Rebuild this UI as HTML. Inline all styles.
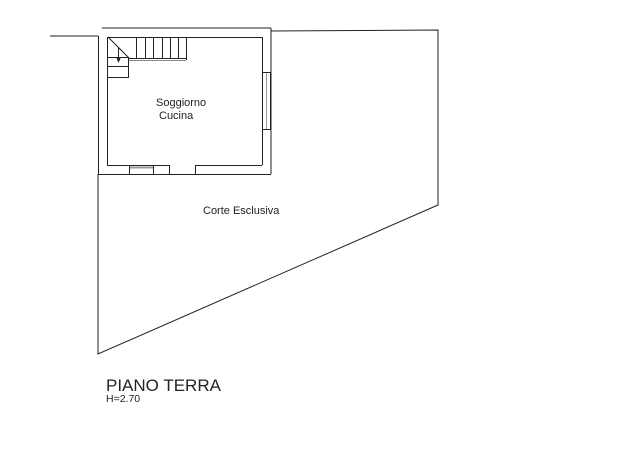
<!DOCTYPE html>
<html><head><style>
body{margin:0;background:#fff;}
svg{display:block;}
text{font-family:"Liberation Sans",sans-serif;fill:#222;}
</style></head><body>
<svg width="630" height="465" viewBox="0 0 630 465" xmlns="http://www.w3.org/2000/svg">
<g stroke="#222" stroke-width="1" fill="none" shape-rendering="crispEdges">
<line x1="50" y1="36" x2="98" y2="36"/>
<line x1="102" y1="28" x2="271" y2="28"/>
<line x1="98.5" y1="36" x2="98.5" y2="174"/>
<line x1="271" y1="28" x2="271" y2="174"/>
<line x1="98" y1="174.5" x2="271" y2="174.5"/>
<line x1="107.5" y1="37" x2="107.5" y2="165"/>
<line x1="107" y1="37.5" x2="262" y2="37.5"/>
<line x1="262.5" y1="37" x2="262.5" y2="165"/>
<line x1="107" y1="165.5" x2="169" y2="165.5"/>
<line x1="195" y1="165.5" x2="262" y2="165.5"/>
<line x1="129.5" y1="165" x2="129.5" y2="174"/>
<line x1="153.5" y1="165" x2="153.5" y2="174"/>
<line x1="169.5" y1="165" x2="169.5" y2="174"/>
<line x1="195.5" y1="165" x2="195.5" y2="174"/>
<line x1="130" y1="167.5" x2="153" y2="167.5" stroke="#999" stroke-width="2"/>
<rect x="262.5" y="72.5" width="8" height="57"/>
<line x1="266.5" y1="73" x2="266.5" y2="129" stroke="#999"/>
<line x1="128" y1="58.5" x2="186" y2="58.5"/>
<line x1="128" y1="60.5" x2="186" y2="60.5" stroke="#888"/>
<line x1="128.5" y1="58" x2="128.5" y2="77"/>
<line x1="108" y1="77.5" x2="129" y2="77.5"/>
<line x1="108" y1="57.5" x2="129" y2="57.5"/>
<line x1="108" y1="66.5" x2="129" y2="66.5"/>
<line x1="136.5" y1="37" x2="136.5" y2="58"/>
<line x1="145.5" y1="37" x2="145.5" y2="58"/>
<line x1="153.5" y1="37" x2="153.5" y2="58"/>
<line x1="162.5" y1="37" x2="162.5" y2="58"/>
<line x1="170.5" y1="37" x2="170.5" y2="58"/>
<line x1="178.5" y1="37" x2="178.5" y2="58"/>
<line x1="186.5" y1="37" x2="186.5" y2="60"/>
<line x1="118.5" y1="48" x2="118.5" y2="62"/>
</g>
<g stroke="#222" stroke-width="1" fill="none">
<line x1="108" y1="37" x2="129" y2="58"/>
<polyline points="271,31 438,30 438,205 98,354 98,174"/>
</g>
<polygon points="116,57 121,57 118.5,63" fill="#222"/>
<text x="156" y="106" font-size="11">Soggiorno</text>
<text x="159" y="119" font-size="11">Cucina</text>
<text x="203" y="214" font-size="11">Corte Esclusiva</text>
<text x="106" y="391" font-size="17">PIANO TERRA</text>
<text x="106" y="402" font-size="10.5">H=2.70</text>
</svg>
</body></html>
